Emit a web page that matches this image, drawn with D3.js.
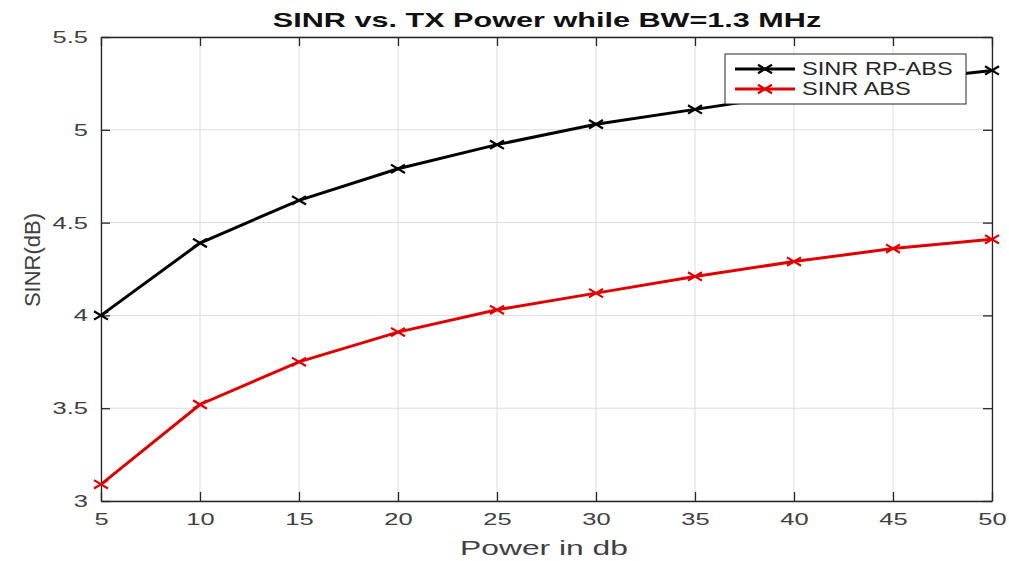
<!DOCTYPE html>
<html>
<head>
<meta charset="utf-8">
<script src="https://cdn.jsdelivr.net/npm/d3@7"></script>
<style>
  html, body { margin: 0; padding: 0; background: #fff; }
  svg { display: block; font-family: "Liberation Sans", Arial, sans-serif; }
</style>
</head>
<body>
<svg id="chart" width="1009" height="561"></svg>
<script>
// Transmit power (dB) on the x axis
const power = [5, 10, 15, 20, 25, 30, 35, 40, 45, 50];
// SINR (dB) for each scheme
const sinrRpAbs = [4.00, 4.39, 4.62, 4.79, 4.92, 5.03, 5.11, 5.19, 5.26, 5.32];
const sinrAbs   = [3.09, 3.52, 3.75, 3.91, 4.03, 4.12, 4.21, 4.29, 4.36, 4.41];
const xTicks = [5, 10, 15, 20, 25, 30, 35, 40, 45, 50];
const yTicks = [3, 3.5, 4, 4.5, 5, 5.5];
const seriesNames = ["SINR RP-ABS", "SINR ABS"];

const svg = d3.select("#chart");
const W = 1009, H = 561;
const m = { left: 101, right: W - 992, top: 37, bottom: H - 501 };

const x = d3.scaleLinear().domain([5, 50]).range([m.left, W - m.right]);
const y = d3.scaleLinear().domain([3, 5.5]).range([H - m.bottom, m.top]);

const gridColor = "#dcdcdc";
const axisColor = "#262626";
const textColor = "#404040";
const wide = 1.5; // horizontal widening of the lettering

// grid lines
const grid = svg.append("g");
grid.selectAll(".gx").data(xTicks).join("line")
  .attr("x1", d => x(d)).attr("x2", d => x(d))
  .attr("y1", y(3)).attr("y2", y(5.5))
  .attr("stroke", gridColor).attr("stroke-width", 1);
grid.selectAll(".gy").data(yTicks).join("line")
  .attr("x1", x(5)).attr("x2", x(50))
  .attr("y1", d => y(d)).attr("y2", d => y(d))
  .attr("stroke", gridColor).attr("stroke-width", 1);

// axes with inward ticks on all four sides
const fmt = d3.format("~g");
function styleAxis(g) {
  g.select(".domain").attr("stroke", axisColor).attr("stroke-width", 1.3);
  g.selectAll(".tick line").attr("stroke", axisColor).attr("stroke-width", 1.3);
  g.selectAll(".tick text").attr("fill", textColor).style("font-size", "17px")
    .attr("transform", `scale(${wide},1)`);
}
svg.append("g").attr("transform", `translate(0,${y(3)})`)
  .call(d3.axisBottom(x).tickValues(xTicks).tickFormat(fmt).tickSizeInner(-9).tickSizeOuter(0).tickPadding(12))
  .call(styleAxis);
svg.append("g").attr("transform", `translate(${x(5)},0)`)
  .call(d3.axisLeft(y).tickValues(yTicks).tickFormat(fmt).tickSizeInner(-9).tickSizeOuter(0))
  .call(styleAxis)
  .call(g => g.selectAll(".tick text").attr("x", -13 / wide));
svg.append("g").attr("transform", `translate(0,${y(5.5)})`)
  .call(d3.axisTop(x).tickValues(xTicks).tickFormat("").tickSizeInner(-9).tickSizeOuter(0))
  .call(styleAxis);
svg.append("g").attr("transform", `translate(${x(50)},0)`)
  .call(d3.axisRight(y).tickValues(yTicks).tickFormat("").tickSizeInner(-9).tickSizeOuter(0))
  .call(styleAxis);

// series lines with x markers
const line = d3.line().x(d => x(d[0])).y(d => y(d[1]));
const series = [
  { name: seriesNames[0], values: sinrRpAbs, color: "#000000" },
  { name: seriesNames[1], values: sinrAbs, color: "#e00000" }
];
function cross(g, cx, cy, s, color) {
  g.append("path")
    .attr("d", `M${cx - s},${cy - s * 0.6}L${cx + s},${cy + s * 0.6}M${cx - s},${cy + s * 0.6}L${cx + s},${cy - s * 0.6}`)
    .attr("stroke", color).attr("stroke-width", 2.2).attr("fill", "none");
}
series.forEach(s => {
  const pts = power.map((p, i) => [p, s.values[i]]);
  svg.append("path").datum(pts).attr("d", line)
    .attr("fill", "none").attr("stroke", s.color).attr("stroke-width", 3);
  const mg = svg.append("g");
  pts.forEach(p => cross(mg, x(p[0]), y(p[1]), 7, s.color));
});

// widened text helper
function label(px, py, str, size, opts = {}) {
  return svg.append("text")
    .attr("transform", `translate(${px},${py}) ${opts.rotate ? "rotate(-90)" : ""} scale(${opts.sx || 1},1)`)
    .attr("text-anchor", opts.anchor || "middle")
    .attr("font-weight", opts.bold ? "bold" : null)
    .attr("fill", opts.color || textColor)
    .style("font-size", size + "px")
    .text(str);
}

// legend
const lg = svg.append("g").attr("transform", "translate(725,54)");
lg.append("rect").attr("width", 241).attr("height", 50)
  .attr("fill", "#fff").attr("stroke", axisColor).attr("stroke-width", 1);
series.forEach((s, i) => {
  const cy = 15 + i * 20;
  lg.append("line").attr("x1", 10).attr("x2", 70).attr("y1", cy).attr("y2", cy)
    .attr("stroke", s.color).attr("stroke-width", 3);
  cross(lg, 40, cy, 7, s.color);
  lg.append("text").attr("transform", `translate(77,${cy + 6}) scale(1.35,1)`)
    .attr("fill", "#262626").style("font-size", "17.5px").text(s.name);
});

// title and axis labels
label(547, 27, "SINR vs. TX Power while BW=1.3 MHz", 19.5, { bold: true, sx: 1.57, color: "#111" });
label(544, 555, "Power in db", 20, { sx: 1.59 });
label(40, 260, "SINR(dB)", 22, { rotate: true });
</script>
</body>
</html>
